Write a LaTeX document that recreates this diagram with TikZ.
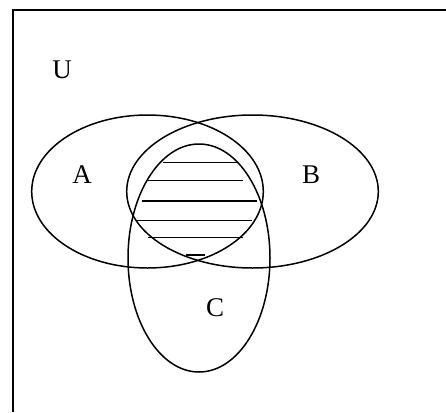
\documentclass[tikz,border=0pt]{standalone}
\usepackage{fontspec}
\setmainfont{Liberation Serif}
\begin{document}
\begin{tikzpicture}[x=1pt,y=-1pt,
  setline/.style={line width=1.5pt},
  hatch/.style={line width=1.5pt},
  framel/.style={line width=2pt},
  lbl/.style={font=\fontsize{27}{32}\selectfont, inner sep=0pt}]
\useasboundingbox (0,0) rectangle (446,412);
% frame (only top and left visible)
\draw[framel] (13,412) -- (13,10) -- (446,10);
% sets
\draw[setline] (147.5,191.5) ellipse [x radius=115.8, y radius=76.5];
\draw[setline] (252.5,191.5) ellipse [x radius=125.8, y radius=76.5];
\draw[setline] (199,258) ellipse [x radius=71, y radius=114];
% hatching
\draw[hatch] (162.7,162.7) -- (236.7,162.7);
\draw[hatch] (148.3,180.3) -- (243.3,180.3);
\draw[hatch] (141.7,201) -- (256.7,201);
\draw[hatch] (136.7,220.3) -- (251.7,220.3);
\draw[hatch] (147.7,237.7) -- (243.3,237.7);
\draw[hatch] (186,255) -- (205,255);
% labels
\node[lbl] (u) at (62,70) {U};
\node[lbl] (a) at (82,175) {A};
\node[lbl] (b) at (311,175) {B};
\node[lbl] (c) at (215,308) {C};
\end{tikzpicture}
\end{document}
